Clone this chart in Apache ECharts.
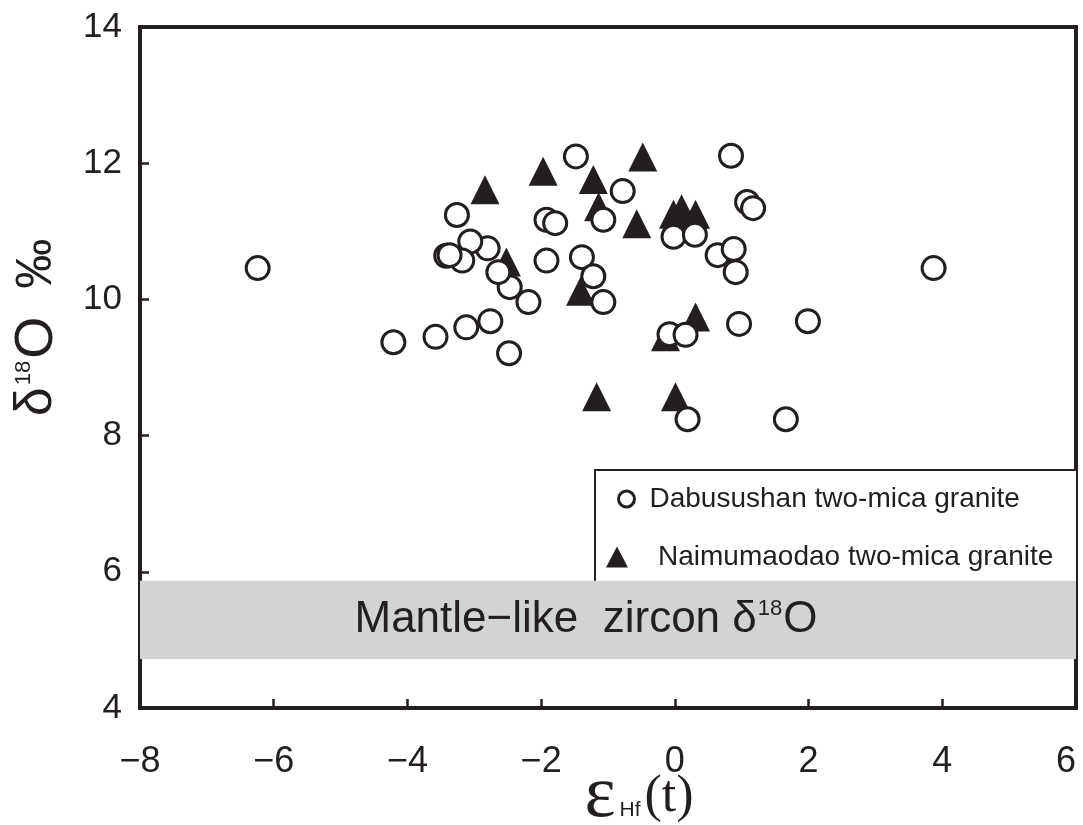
<!DOCTYPE html>
<html>
<head>
<meta charset="utf-8">
<title>δ18O vs εHf(t)</title>
<script src="https://cdn.jsdelivr.net/npm/echarts@6/dist/echarts.min.js"></script>
<style>
  html, body { margin: 0; padding: 0; background: #ffffff; }
  #chart { width: 1083px; height: 825px; }
</style>
</head>
<body>
<div id="chart"></div>
<script>
// εHf(t) and δ18O (‰) of zircons, Dabusushan two-mica granite
const dabusushanHf = [-6.24, -4.21, -3.58, -3.12, -2.76, -2.48, -2.19, -2.47, -2.64, -2.80,
  -3.06, -3.18, -3.42, -3.37, -3.26, -1.92, -1.92, -1.79, -1.48, -1.39,
  -1.22, -1.07, -1.07, -0.78, -0.02, 0.30, 0.84, 1.08, 1.17, 0.64,
  0.88, 0.91, 0.96, 1.99, -0.08, 0.16, 0.19, 1.66, 3.87];
const dabusushanO = [10.46, 9.37, 9.45, 9.59, 9.68, 9.21, 9.96, 10.18, 10.40, 10.75,
  10.85, 10.57, 10.64, 10.65, 11.24, 10.57, 11.17, 11.12, 12.10, 10.62,
  10.34, 9.96, 11.17, 11.59, 10.92, 10.95, 12.11, 11.43, 11.34, 10.65,
  10.74, 10.40, 9.64, 9.68, 9.49, 9.48, 8.24, 8.24, 10.46];

// Naimumaodao two-mica granite
const naimumaodaoHf = [-2.84, -1.97, -1.22, -1.14, -0.48, -0.57, -0.02, 0.10, 0.31, -2.52,
  -1.41, 0.31, -0.14, -1.17, 0.01];
const naimumaodaoO = [11.61, 11.88, 11.76, 11.36, 12.09, 11.11, 11.25, 11.33, 11.25, 10.55,
  10.12, 9.74, 9.45, 8.57, 8.57];

// Mantle-like zircon δ18O range (‰)
const mantleRange = [4.72, 5.87];

const seriesNames = ['Dabusushan two-mica granite', 'Naimumaodao two-mica granite'];
const xTicks = { min: -8, max: 6, interval: 2 };
const yTicks = { min: 4, max: 14, interval: 2 };

const ink = '#231f20';
const sans = "'Liberation Sans', Arial, sans-serif";
const serif = "'Liberation Serif', 'Times New Roman', serif";

const pairs = (xs, ys) => xs.map((x, i) => [x, ys[i]]);

const chart = echarts.init(document.getElementById('chart'), null, { renderer: 'canvas' });

const legendText = { color: ink, fontFamily: sans, fontSize: 28 };

chart.setOption({
  backgroundColor: '#ffffff',
  animation: false,
  grid: {
    left: 140, right: 7, top: 27, bottom: 117,
    outerBoundsMode: 'none',
    containLabel: false,
    show: true, borderColor: ink, borderWidth: 4, backgroundColor: 'transparent'
  },
  xAxis: {
    type: 'value',
    min: xTicks.min, max: xTicks.max, interval: xTicks.interval,
    axisLine: { show: true, onZero: false, lineStyle: { color: ink, width: 4 } },
    axisTick: { show: true, inside: true, length: 9, lineStyle: { color: ink, width: 2.5 } },
    splitLine: { show: false },
    axisLabel: {
      margin: 36, color: ink, fontSize: 36,
      alignMaxLabel: 'right',
      fontFamily: "'Liberation Sans Narrow', 'Liberation Sans', Arial, sans-serif",
      formatter: v => String(v).replace('-', '\u2212')
    },
    name: '{e|\u03B5}{s|Hf}{p|(t)}',
    nameLocation: 'middle',
    nameMoveOverlap: false,
    nameGap: 52,
    nameTextStyle: {
      padding: [0, 0, 0, 62],
      rich: {
        e: { fontFamily: serif, fontSize: 74, color: ink },
        s: { fontFamily: sans, fontSize: 21, color: ink, padding: [26, 4, 0, 4] },
        p: { fontFamily: serif, fontSize: 52, color: ink }
      }
    }
  },
  yAxis: {
    type: 'value',
    min: yTicks.min, max: yTicks.max, interval: yTicks.interval,
    axisLine: { show: true, onZero: false, lineStyle: { color: ink, width: 4 } },
    axisTick: { show: true, inside: true, length: 9, lineStyle: { color: ink, width: 2.5 } },
    splitLine: { show: false },
    axisLabel: { margin: 18, color: ink, fontSize: 35, fontFamily: sans },
    name: '{d|\u03B4}{sup|18}{o|O}{p|\u2030}',
    nameLocation: 'middle',
    nameMoveOverlap: false,
    nameRotate: 90,
    nameGap: 76,
    nameTextStyle: {
      padding: [0, 0, 0, 80],
      rich: {
        d: { fontFamily: sans, fontSize: 52, color: ink },
        sup: { fontFamily: sans, fontSize: 22, color: ink, padding: [0, 2, 26, 2] },
        o: { fontFamily: sans, fontSize: 54, color: ink },
        p: { fontFamily: sans, fontSize: 50, color: ink, padding: [0, 0, 0, 28] }
      }
    }
  },
  legend: [
    {
      orient: 'vertical',
      left: 612, top: 480,
      itemWidth: 16, itemHeight: 16,
      data: [{ name: seriesNames[0], itemStyle: { color: '#ffffff', borderColor: ink, borderWidth: 3 } }],
      textStyle: Object.assign({ padding: [0, 0, 0, 10] }, legendText),
      selectedMode: false
    },
    {
      orient: 'vertical',
      left: 601, top: 538,
      itemWidth: 22, itemHeight: 21,
      data: [{ name: seriesNames[1] }],
      textStyle: Object.assign({ padding: [0, 0, 0, 25] }, legendText),
      selectedMode: false
    }
  ],
  graphic: [
    {
      type: 'rect',
      left: 594, top: 469,
      shape: { width: 482, height: 112 },
      style: { fill: '#ffffff', stroke: ink, lineWidth: 2 },
      z: 1
    }
  ],
  series: [
    {
      name: seriesNames[1],
      type: 'scatter',
      symbol: 'triangle',
      symbolSize: 29,
      itemStyle: { color: ink, opacity: 1 },
      data: pairs(naimumaodaoHf, naimumaodaoO),
      z: 3,
      markArea: {
        silent: true,
        itemStyle: { color: '#d1d3d4' },
        label: {
          show: true,
          position: 'inside',
          padding: [0, 44, 0, 0],
          formatter: '{t|Mantle\u2212like  zircon \u03B4}{sup|18}{t|O}',
          rich: {
            t: { fontFamily: sans, fontSize: 44, color: ink },
            sup: { fontFamily: sans, fontSize: 22, color: ink, padding: [0, 1, 22, 1] }
          }
        },
        data: [[{ yAxis: mantleRange[0] }, { yAxis: mantleRange[1] }]]
      }
    },
    {
      name: seriesNames[0],
      type: 'scatter',
      symbol: 'circle',
      symbolSize: 23,
      itemStyle: { color: '#ffffff', borderColor: ink, borderWidth: 3, opacity: 1 },
      data: pairs(dabusushanHf, dabusushanO),
      z: 4
    }
  ]
});
</script>
</body>
</html>
